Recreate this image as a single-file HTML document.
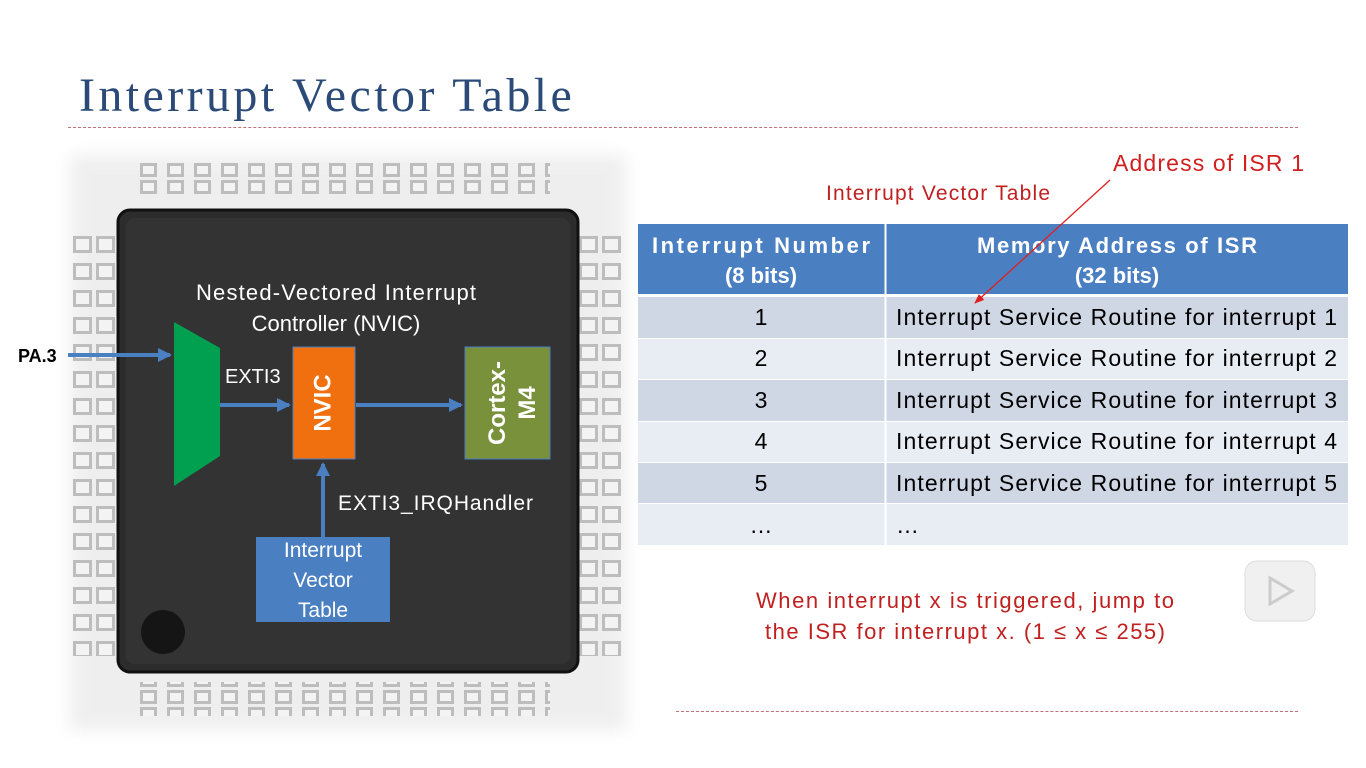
<!DOCTYPE html>
<html><head><meta charset="utf-8"><style>
body{margin:0;width:1366px;height:768px;background:#fff;overflow:hidden;position:relative;font-family:"Liberation Sans",sans-serif}
.a{position:absolute}
</style></head><body>
<div class="a" style="left:79px;top:68px;font-family:'Liberation Serif',serif;font-size:48px;letter-spacing:3.4px;color:#2b4a78">Interrupt Vector Table</div>
<div class="a" style="left:68px;top:127px;width:1230px;border-top:1px dashed #c0707a"></div>
<div class="a" style="left:676px;top:711px;width:622px;border-top:1px dashed #c0707a"></div>
<svg class="a" style="left:0;top:0" width="1366" height="768">
<defs>
<marker id="ar2" markerWidth="14" markerHeight="14" refX="12" refY="7" orient="auto" markerUnits="userSpaceOnUse"><path d="M0,0L14,7L0,14z" fill="#4a7fc2"/></marker>
<marker id="rr" markerWidth="10" markerHeight="10" refX="9" refY="5" orient="auto" markerUnits="userSpaceOnUse"><path d="M0,1L10,5L0,9z" fill="#e02020"/></marker>
<pattern id="ph" x="140" y="163" width="27" height="17" patternUnits="userSpaceOnUse"><rect x="0" y="0" width="17" height="14" fill="#bdbdbd"/><rect x="3" y="3" width="11" height="8" fill="#f3f3f3"/></pattern>
<pattern id="pv" x="73" y="236" width="23" height="27" patternUnits="userSpaceOnUse"><rect x="0" y="0" width="19" height="17" fill="#bdbdbd"/><rect x="3" y="3" width="13" height="11" fill="#f3f3f3"/></pattern>
<filter id="bl"><feGaussianBlur stdDeviation="8"/></filter>
</defs>
<rect x="70" y="155" width="556" height="575" fill="#e4e4e4" filter="url(#bl)" opacity="0.6"/>
<rect x="140" y="163" width="410" height="34" fill="url(#ph)"/>
<rect x="140" y="682" width="410" height="34" fill="url(#ph)"/>
<rect x="73" y="236" width="46" height="420" fill="url(#pv)"/>
<rect x="578" y="236" width="46" height="420" fill="url(#pv)"/>
<rect x="118" y="210" width="460" height="462" rx="12" fill="#2c2c2c" stroke="#111" stroke-width="3"/>
<rect x="126" y="218" width="444" height="446" rx="8" fill="#333"/>
<circle cx="163" cy="632" r="22" fill="#151515"/>
<polygon points="174,322 220,348 220,456 174,486" fill="#00a050"/>
<rect x="293" y="347" width="62" height="112" fill="#f07010" stroke="#4a7fc2"/>
<rect x="465" y="347" width="85" height="112" fill="#78913a" stroke="#4a7fc2"/>
<rect x="256" y="537" width="134" height="85" fill="#4a7fc2"/>
<line x1="68" y1="355" x2="170" y2="355" stroke="#4a7fc2" stroke-width="4" marker-end="url(#ar2)"/>
<line x1="220" y1="405" x2="289" y2="405" stroke="#4a7fc2" stroke-width="4" marker-end="url(#ar2)"/>
<line x1="356" y1="405" x2="461" y2="405" stroke="#4a7fc2" stroke-width="4" marker-end="url(#ar2)"/>
<line x1="323" y1="537" x2="323" y2="464" stroke="#4a7fc2" stroke-width="4" marker-end="url(#ar2)"/>
<text x="324" y="403" transform="rotate(-90 324 403)" text-anchor="middle" dominant-baseline="middle" font-size="24" font-weight="bold" fill="#fff">NVIC</text>
<text x="505" y="403" transform="rotate(-90 505 403)" text-anchor="middle" font-size="24" font-weight="bold" fill="#fff">Cortex-</text>
<text x="535" y="403" transform="rotate(-90 535 403)" text-anchor="middle" font-size="24" font-weight="bold" fill="#fff">M4</text>
<text x="336" y="300" text-anchor="middle" font-size="22" fill="#fff" textLength="280">Nested-Vectored Interrupt</text>
<text x="336" y="331" text-anchor="middle" font-size="22" fill="#fff">Controller (NVIC)</text>
<text x="225" y="383" font-size="20" fill="#fff">EXTI3</text>
<text x="338" y="510" font-size="21" fill="#fff" textLength="195">EXTI3_IRQHandler</text>
<text x="323" y="557" text-anchor="middle" font-size="21" fill="#fff">Interrupt</text>
<text x="323" y="587" text-anchor="middle" font-size="21" fill="#fff">Vector</text>
<text x="323" y="617" text-anchor="middle" font-size="21" fill="#fff">Table</text>
<text x="18" y="362" font-size="18" font-weight="bold" fill="#000">PA.3</text>
<rect x="638" y="224" width="710" height="70" fill="#4a7fc2"/>
<line x1="885.5" y1="224" x2="885.5" y2="545" stroke="#fff" stroke-width="2"/>
<g font-size="23">
<rect x="638" y="297" width="710" height="41" fill="#cfd7e5"/>
<rect x="638" y="339" width="710" height="40" fill="#e8ecf3"/>
<rect x="638" y="380" width="710" height="41" fill="#cfd7e5"/>
<rect x="638" y="422" width="710" height="40" fill="#e8ecf3"/>
<rect x="638" y="463" width="710" height="40" fill="#cfd7e5"/>
<rect x="638" y="504" width="710" height="41" fill="#e8ecf3"/>
<line x1="885.5" y1="297" x2="885.5" y2="545" stroke="#fff" stroke-width="2"/>
<text x="761" y="325" text-anchor="middle">1</text><text x="896" y="325" textLength="441">Interrupt Service Routine for interrupt 1</text>
<text x="761" y="366" text-anchor="middle">2</text><text x="896" y="366" textLength="441">Interrupt Service Routine for interrupt 2</text>
<text x="761" y="408" text-anchor="middle">3</text><text x="896" y="408" textLength="441">Interrupt Service Routine for interrupt 3</text>
<text x="761" y="449" text-anchor="middle">4</text><text x="896" y="449" textLength="441">Interrupt Service Routine for interrupt 4</text>
<text x="761" y="491" text-anchor="middle">5</text><text x="896" y="491" textLength="441">Interrupt Service Routine for interrupt 5</text>
<text x="761" y="533" text-anchor="middle">…</text><text x="896" y="533">…</text>
</g>
<text x="761" y="253" text-anchor="middle" font-size="22" font-weight="bold" fill="#fff" textLength="218">Interrupt Number</text>
<text x="761" y="283" text-anchor="middle" font-size="22" font-weight="bold" fill="#fff">(8 bits)</text>
<text x="1117" y="253" text-anchor="middle" font-size="22" font-weight="bold" fill="#fff" textLength="280">Memory Address of ISR</text>
<text x="1117" y="283" text-anchor="middle" font-size="22" font-weight="bold" fill="#fff">(32 bits)</text>
<line x1="1110" y1="180" x2="975" y2="303" stroke="#e02020" stroke-width="1.3" marker-end="url(#rr)"/>
<text x="1113" y="171" font-size="23" fill="#d02020" textLength="191">Address of ISR 1</text>
<text x="826" y="200" font-size="21" fill="#c02020" textLength="224">Interrupt Vector Table</text>
<text x="965" y="608" text-anchor="middle" font-size="22" fill="#c02020" textLength="418">When interrupt x is triggered, jump to</text>
<text x="965" y="639" text-anchor="middle" font-size="22" fill="#c02020" textLength="400">the ISR for interrupt x. (1 ≤ x ≤ 255)</text>
<rect x="1245" y="561" width="70" height="60" rx="12" fill="#f0f0f0" stroke="#ddd"/>
<path d="M1270,578L1292,591L1270,604z" fill="none" stroke="#ccc" stroke-width="3"/>
</svg>
</body></html>
